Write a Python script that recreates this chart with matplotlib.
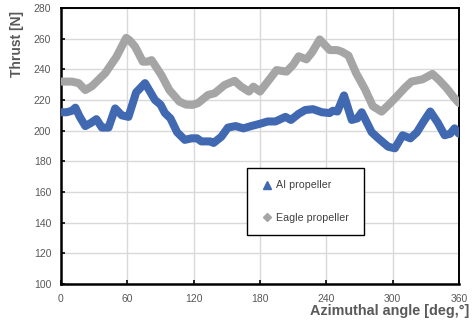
import matplotlib
matplotlib.use('Agg')
import matplotlib.pyplot as plt
from matplotlib.lines import Line2D

plt.rcParams['font.family'] = ['Liberation Sans', 'DejaVu Sans']

# AI propeller (blue)
ai_angle = [0, 5, 10, 13, 17, 22, 27, 32, 37, 43, 49, 55, 61, 68, 76, 85, 90, 94, 99,
            105, 112, 118, 123, 127, 135, 138, 145, 151, 158, 165, 172, 180, 187, 194,
            203, 208, 215, 221, 228, 236, 243, 246, 250, 256, 263, 268, 272, 281, 287,
            296, 302, 309, 316, 322, 328, 334, 341, 347, 352, 356, 360]
ai_thrust = [212, 212, 213, 215, 209, 203, 205, 207.5, 202, 202, 214.5, 210, 209, 225,
             231, 220, 217, 211.5, 208, 199, 194, 195, 195, 193, 193, 192, 196, 202, 203,
             201.5, 203, 204.5, 206, 206, 209, 207, 211, 213.5, 214, 212, 211.5, 213,
             212.5, 223, 207, 208, 212, 199, 195, 189.5, 188.5, 197, 195, 199, 206, 212.5,
             205, 197, 198, 201.5, 198]

# Eagle propeller (gray)
eagle_angle = [0, 10, 16, 22, 28, 40, 50, 59, 62, 67, 74, 78, 82, 91, 98, 107, 113, 119,
               124, 133, 139, 148, 157, 163, 170, 174, 180, 187, 195, 204, 210, 215, 222,
               227, 234, 243, 250, 254, 260, 267, 275, 282, 290, 298, 305, 311, 317, 327,
               336, 342, 349, 355, 360]
eagle_thrust = [232, 232, 231, 226.5, 229, 237.5, 248, 260.5, 259, 254.8, 245, 245, 246,
                236, 226.5, 219, 217, 216.8, 218, 223.3, 224.4, 229.8, 232.5, 228.7, 225.5,
                228.7, 225.5, 232, 239.5, 238.5, 243, 248.5, 246.5, 251, 259.5, 252.6,
                252.5, 251.5, 249, 237.4, 227, 216, 212.4, 218, 223.3, 228, 232, 233.5,
                237, 233, 227.6, 222, 218]

x_ticks = [0, 60, 120, 180, 240, 300, 360]
y_ticks = [100, 120, 140, 160, 180, 200, 220, 240, 260, 280]

blue = '#4169b2'
gray = '#a5a5a5'
txt = '#595959'

fig = plt.figure(figsize=(4.72, 3.22), dpi=100)
ax = fig.add_axes([61 / 472, 38 / 322, 398 / 472, 276 / 322])

ax.plot(eagle_angle, eagle_thrust, color=gray, lw=5.8, solid_capstyle='round',
        solid_joinstyle='round', zorder=3)
ax.plot(ai_angle, ai_thrust, color=blue, lw=5.8, solid_capstyle='round',
        solid_joinstyle='round', zorder=4)

ax.set_xlim(0, 360)
ax.set_ylim(100, 280)
ax.set_xticks(x_ticks)
ax.set_yticks(y_ticks)
ax.grid(True, color='#d9d9d9', lw=1.0, zorder=0)
ax.set_axisbelow(True)
ax.tick_params(direction='in', length=3, width=1.2, color='black', labelsize=7.5,
               labelcolor=txt)
ax.tick_params(axis='y', pad=7)
ax.tick_params(axis='x', pad=7)
for side in ['left', 'bottom']:
    ax.spines[side].set_linewidth(1.8)
for side in ['top', 'right']:
    ax.spines[side].set_linewidth(1.4)

ax.set_ylabel('Thrust [N]', fontsize=10, fontweight='bold', color=txt)
ax.yaxis.set_label_coords(-0.093, 0.87)
fig.text(469 / 472, (322 - 311) / 322, 'Azimuthal angle [deg,°]', fontsize=10.4,
         fontweight='bold', color=txt, ha='right', va='center')

handles = [Line2D([], [], ls='none', marker='^', color=blue, markersize=6),
           Line2D([], [], ls='none', marker='D', color=gray, markersize=4.5)]
leg = ax.legend(handles, ['AI propeller', 'Eagle propeller'], loc='upper left',
                bbox_to_anchor=(186 / 398, 0, 117 / 398, 116 / 276), mode='expand',
                fontsize=7.7, frameon=True, fancybox=False, edgecolor='black',
                framealpha=1, labelspacing=2.1, handlelength=1.5, handletextpad=0.05,
                borderpad=1.15, borderaxespad=0)
leg.get_frame().set_linewidth(1.0)
for t in leg.get_texts():
    t.set_color('#404040')

fig.savefig('out.png', dpi=100)
